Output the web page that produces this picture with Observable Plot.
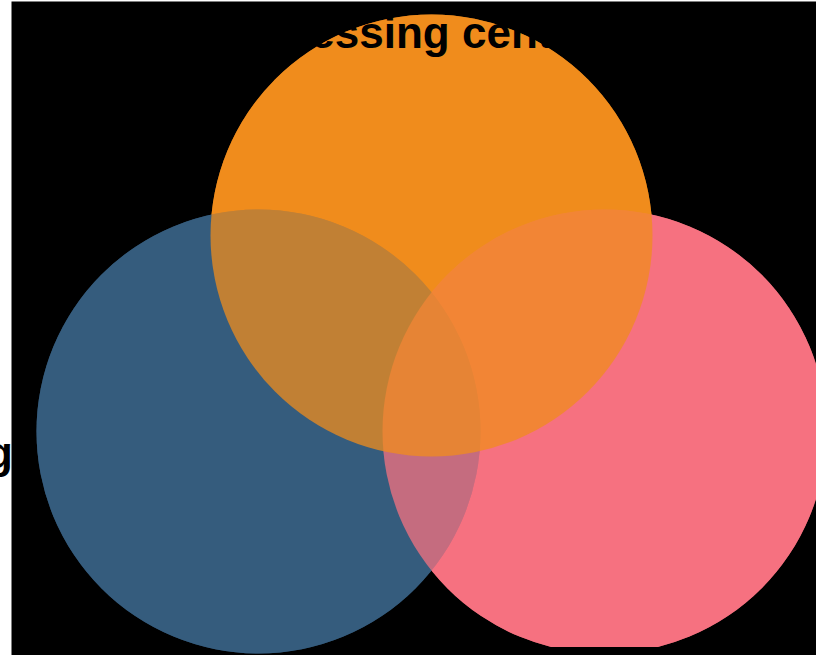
<!DOCTYPE html>
<html>
<head>
<meta charset="utf-8">
<script src="https://cdn.jsdelivr.net/npm/d3@7"></script>
<script src="https://cdn.jsdelivr.net/npm/@observablehq/plot@0.6"></script>
<style>
html, body { margin: 0; padding: 0; background: #fff; overflow: hidden; }
</style>
</head>
<body>
<div id="chart"></div>
<script>
// Sets of the Venn diagram (layout units = pixels of the drawing area)
const setNames = ["Marketing", "Sales", "Processing center"];
const centerX = [247, 593, 420];
const centerY = [430, 430, 234];
const radius = [222, 222, 221];
const setColors = ["#355C7D", "#F67280", "#F08C1C"];
const clipped = [false, true, false];

// Visible labels (same layout units)
const labelNames = ["Marketing", "Processing center"];
const labelX = [1.5, 201];
const labelY = [466, 46];
const labelAnchor = ["end", "start"];

const circles = setNames.map((name, i) => ({
  name, cx: centerX[i], cy: centerY[i], r: radius[i], color: setColors[i], clip: clipped[i]
}));
const labels = labelNames.map((name, i) => ({
  name, x: labelX[i], y: labelY[i], anchor: labelAnchor[i]
}));

const font = "'Liberation Sans', Arial, Helvetica, sans-serif";

function circleMark(c, opacity) {
  return Plot.dot([c], {
    x: "cx", y: "cy", r: "r", fill: "color",
    fillOpacity: opacity, stroke: null, clip: c.clip
  });
}

// Base: every region gets the colour of its lowest set (drawn in reverse order),
// then every set is laid over at 0.75 opacity in order.
const baseMarks = circles.slice().reverse().map(c => circleMark(c, 1));
const overlayMarks = circles.map(c => circleMark(c, 0.75));

const labelMarks = ["end", "start"].map(anchor =>
  Plot.text(labels.filter(d => d.anchor === anchor), {
    x: "x", y: "y", text: "name",
    textAnchor: anchor, lineAnchor: "bottom",
    fontSize: 44, fontWeight: "bold", fontFamily: font, fill: "black"
  })
);

const chart = Plot.plot({
  width: 816,
  height: 655,
  marginTop: 1,
  marginLeft: 11,
  marginRight: 0,
  marginBottom: 8,
  style: { background: "white", overflow: "visible" },
  x: { domain: [0, 805], range: [11, 816], axis: null },
  y: { domain: [0, 646], range: [1, 647], axis: null },
  r: { type: "identity" },
  color: { type: "identity" },
  marks: [
    Plot.frame({ fill: "black", stroke: null, insetBottom: -8 }),
    ...baseMarks,
    ...overlayMarks,
    ...labelMarks
  ]
});
document.getElementById("chart").appendChild(chart);
</script>
</body>
</html>
